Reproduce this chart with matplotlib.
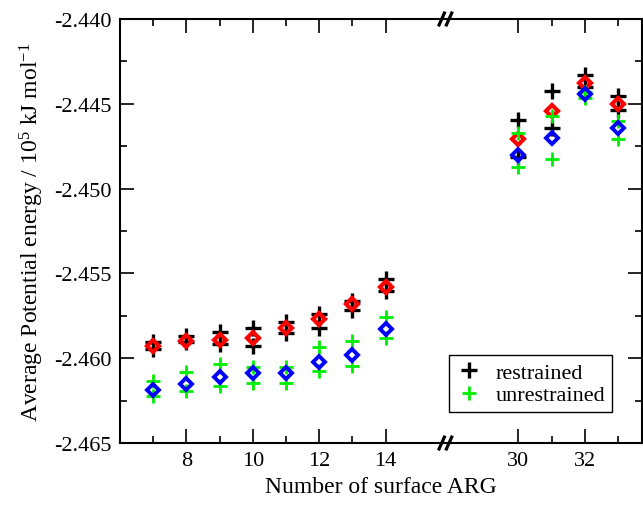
import matplotlib
matplotlib.use("Agg")
import matplotlib.pyplot as plt
from matplotlib.ticker import FixedLocator, FixedFormatter, MultipleLocator, FormatStrFormatter

plt.rcParams["font.family"] = ["Liberation Serif", "DejaVu Serif"]
plt.rcParams["mathtext.default"] = "regular"

# number of surface ARG (two groups, axis broken between them)
arg_low = [7, 8, 9, 10, 11, 12, 13, 14]
arg_high = [30, 31, 32, 33]
arg_all = arg_low + arg_high
shift = 12  # right group is drawn at x - shift

# restrained runs (two per system)
restr_1 = [-2.45904, -2.45867, -2.45844, -2.45824, -2.45788, -2.45739, -2.45661, -2.45533,
           -2.44596, -2.44426, -2.44330, -2.44456]
restr_2 = [-2.45946, -2.45906, -2.45916, -2.45926, -2.45851, -2.45824, -2.45714, -2.45604,
           -2.44815, -2.44645, -2.44403, -2.44535]
restr_avg = [-2.4593, -2.4590, -2.4589, -2.4588, -2.4582, -2.4577, -2.4568, -2.4558,
             -2.4471, -2.4454, -2.4438, -2.4450]

# unrestrained runs
unres_1 = [-2.46133, -2.46080, -2.46034, -2.46054, -2.46054, -2.45936, -2.45897, -2.45757,
           -2.44672, -2.44574, -2.44432, -2.44600]
unres_2 = [-2.46221, -2.46192, -2.46162, -2.46146, -2.46146, -2.46077, -2.46044, -2.45881,
           -2.44874, -2.44825, -2.44468, -2.44708]
unres_avg = [-2.4619, -2.4615, -2.4611, -2.4609, -2.4609, -2.4602, -2.4598, -2.4583,
             -2.4480, -2.4470, -2.4444, -2.4464]

xpos = [x if x < 20 else x - shift for x in arg_all]

fig = plt.figure(figsize=(6.43, 5.06), dpi=100)
ax = fig.add_axes([0.1866, 0.1225, 0.8118, 0.838])

ax.plot(xpos, restr_1, "+", color="black", ms=12, mew=2.4, label="restrained", zorder=3)
ax.plot(xpos, restr_2, "+", color="black", ms=12, mew=2.4, zorder=3)
ax.plot(xpos, restr_avg, "D", color="red", mfc="none", ms=6.5, mew=3.0, zorder=4)
ax.plot(xpos, unres_1, "+", color="#00ee00", ms=10, mew=2.0, label="unrestrained", zorder=5)
ax.plot(xpos, unres_2, "+", color="#00ee00", ms=10, mew=2.0, zorder=5)
ax.plot(xpos, unres_avg, "D", color="blue", mfc="none", ms=6.5, mew=2.8, zorder=6)

ax.set_xlim(6, 21.72)
ax.set_ylim(-2.465, -2.440)

major_x = [8, 10, 12, 14, 30, 32]
minor_x = [7, 9, 11, 13, 31, 33]
ax.xaxis.set_major_locator(FixedLocator([x if x < 20 else x - shift for x in major_x]))
ax.xaxis.set_major_formatter(FixedFormatter([str(x) for x in major_x]))
ax.xaxis.set_minor_locator(FixedLocator([x if x < 20 else x - shift for x in minor_x]))
ax.yaxis.set_major_locator(MultipleLocator(0.005))
ax.yaxis.set_minor_locator(MultipleLocator(0.0025))
ax.yaxis.set_major_formatter(FormatStrFormatter("%.3f"))

ax.tick_params(which="both", direction="in", top=True, right=True, labelsize=16, width=1.2)
ax.tick_params(which="major", length=10, pad=6)
ax.tick_params(which="minor", length=5)
for s in ax.spines.values():
    s.set_linewidth(1.5)

# break marks
brk = 15.8
for yb in (0, 1):
    for dx in (-0.11, 0.11):
        ax.plot([brk + dx - 0.08, brk + dx + 0.08], [yb - 0.014, yb + 0.014], color="black",
                lw=2.3, transform=ax.get_xaxis_transform(), clip_on=False, zorder=10)

ax.set_xlabel("Number of surface ARG", fontsize=17, labelpad=4)
ax.set_ylabel("Average Potential energy / 10$^5$ kJ mol$^{-1}$", fontsize=17, labelpad=6)

leg = ax.legend(loc="lower right", bbox_to_anchor=(0.943, 0.073), borderaxespad=0,
                fontsize=16, fancybox=False, edgecolor="black", framealpha=1,
                handletextpad=0.6, borderpad=0.3, labelspacing=0.1, handlelength=1.2)
leg.get_frame().set_linewidth(1.0)

fig.savefig("out.png", dpi=100)
